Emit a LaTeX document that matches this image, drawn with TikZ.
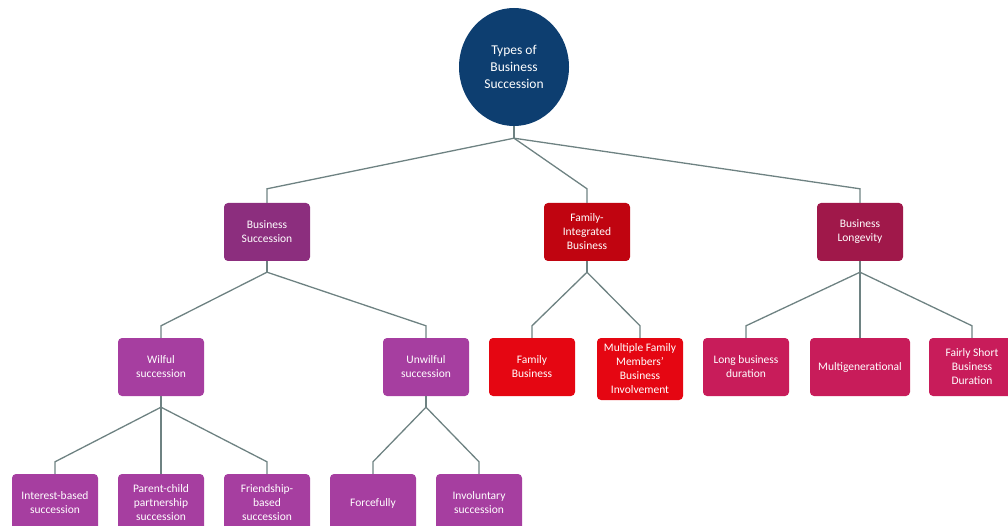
\documentclass[tikz,border=0pt]{standalone}
\usepackage{fontspec}
\setmainfont{Carlito}
\usetikzlibrary{shapes}
\usetikzlibrary{positioning}
\definecolor{rootblue}{RGB}{13,62,112}
\definecolor{plum}{RGB}{140,46,126}
\definecolor{orchid}{RGB}{166,62,160}
\definecolor{darkred}{RGB}{192,4,16}
\definecolor{brightred}{RGB}{229,6,18}
\definecolor{wine}{RGB}{160,24,74}
\definecolor{rose}{RGB}{200,28,90}
\definecolor{linegray}{RGB}{110,130,130}
\tikzset{
	treenode/.style = {
		align=center,
		inner sep=0pt,
		text centered,
		text=white,
		font=\fontsize{11.5}{14}\selectfont
	},
	node_root/.style = {
		treenode,
		ellipse,
		fill=rootblue,
		minimum width=110pt,
		minimum height=118pt,
		font=\fontsize{13.5}{17}\selectfont
	},
	node_box/.style = {
		treenode,
		rectangle,
		rounded corners=4pt,
		minimum width=86pt,
		minimum height=58pt
	},
	node_plum/.style = {node_box, fill=plum},
	node_orchid/.style = {node_box, fill=orchid},
	node_dred/.style = {node_box, fill=darkred},
	node_bred/.style = {node_box, fill=brightred},
	node_wine/.style = {node_box, fill=wine},
	node_rose/.style = {node_box, fill=rose},
	conn/.style = {draw=linegray, line width=1.3pt}
}
\begin{document}
\begin{tikzpicture}[x=1pt,y=1pt]
\useasboundingbox (0,0) rectangle (1008,-526);
% root
\node [node_root] (root) at (514,-67) {Types of\\Business\\Succession};
% level 1
\node [node_plum] (bs) at (267,-232) {Business\\Succession};
\node [node_dred] (fib) at (587,-232) {Family-\\Integrated\\Business};
\node [node_wine] (bl) at (860,-232) {Business\\Longevity};
% level 2
\node [node_orchid] (ws) at (161,-367) {Wilful\\succession};
\node [node_orchid] (us) at (426,-367) {Unwilful\\succession};
\node [node_bred] (fb) at (532,-367) {Family\\Business};
\node [node_bred, minimum height=62pt] (mf) at (640,-369) {Multiple Family\\Members'\\Business\\Involvement};
\node [node_rose] (lbd) at (746,-367) {Long business\\duration};
\node [node_rose, minimum width=100pt] (mg) at (860,-367) {Multigenerational};
\node [node_rose] (fsd) at (972,-367) {Fairly Short\\Business\\Duration};
% level 3
\node [node_orchid] (ib) at (55,-503) {Interest-based\\succession};
\node [node_orchid] (pc) at (161,-503) {Parent-child\\partnership\\succession};
\node [node_orchid] (fr) at (267,-503) {Friendship-\\based\\succession};
\node [node_orchid] (fo) at (373,-503) {Forcefully};
\node [node_orchid] (iv) at (479,-503) {Involuntary\\succession};
% connectors
\draw [conn] (root.south) -- ++(0,-12) coordinate (rj);
\foreach \c in {bs,fib,bl}
	\draw [conn] (rj) -- ([yshift=14pt]\c.north) -- (\c.north);
\draw [conn] (bs.south) -- ++(0,-11) coordinate (bsj);
\foreach \c in {ws,us}
	\draw [conn] (bsj) -- ([yshift=12pt]\c.north) -- (\c.north);
\draw [conn] (fib.south) -- ++(0,-11) coordinate (fij);
\foreach \c in {fb,mf}
	\draw [conn] (fij) -- ([yshift=12pt]\c.north) -- (\c.north);
\draw [conn] (bl.south) -- ++(0,-11) coordinate (blj);
\foreach \c in {lbd,mg,fsd}
	\draw [conn] (blj) -- ([yshift=12pt]\c.north) -- (\c.north);
\draw [conn] (ws.south) -- ++(0,-11) coordinate (wsj);
\foreach \c in {ib,pc,fr}
	\draw [conn] (wsj) -- ([yshift=12pt]\c.north) -- (\c.north);
\draw [conn] (us.south) -- ++(0,-11) coordinate (usj);
\foreach \c in {fo,iv}
	\draw [conn] (usj) -- ([yshift=12pt]\c.north) -- (\c.north);
\end{tikzpicture}
\end{document}
